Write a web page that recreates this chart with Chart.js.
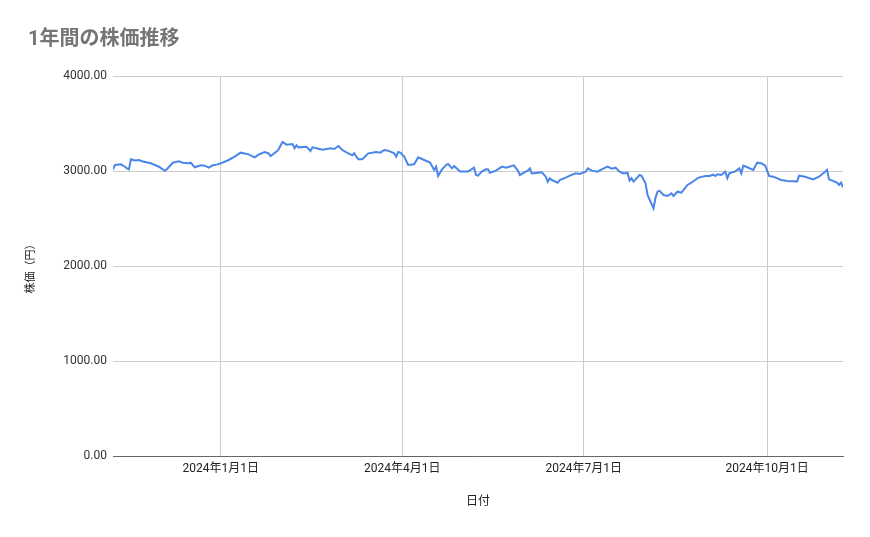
<!DOCTYPE html>
<html><head><meta charset="utf-8">
<script src="https://cdn.jsdelivr.net/npm/chart.js@4.4.1/dist/chart.umd.min.js"></script>
<style>html,body{margin:0;padding:0;background:#fff}#wrap{width:870px;height:537px}</style>
</head><body><div id="wrap"><canvas id="c" width="870" height="537"></canvas></div>
<script>
const chartTitle = "1年間の株価推移";
const xAxisTitle = "日付";
const yAxisTitle = "株価（円）";
const dates = [
"2023-11-08","2023-11-09","2023-11-12","2023-11-14","2023-11-15","2023-11-16","2023-11-17","2023-11-19","2023-11-21","2023-11-23",
"2023-11-27","2023-12-01","2023-12-04","2023-12-05","2023-12-08","2023-12-11","2023-12-13","2023-12-16","2023-12-17","2023-12-19",
"2023-12-22","2023-12-24","2023-12-26","2023-12-28","2023-12-30","2024-01-01","2024-01-05","2024-01-08","2024-01-11","2024-01-15",
"2024-01-18","2024-01-20","2024-01-23","2024-01-25","2024-01-26","2024-01-29","2024-01-30","2024-02-01","2024-02-03","2024-02-06",
"2024-02-07","2024-02-08","2024-02-09","2024-02-13","2024-02-15","2024-02-16","2024-02-19","2024-02-21","2024-02-25","2024-02-27",
"2024-02-29","2024-03-02","2024-03-05","2024-03-07","2024-03-08","2024-03-09","2024-03-10","2024-03-12","2024-03-15","2024-03-19",
"2024-03-21","2024-03-23","2024-03-25","2024-03-28","2024-03-29","2024-03-30","2024-03-31","2024-04-02","2024-04-04","2024-04-07",
"2024-04-09","2024-04-12","2024-04-15","2024-04-17","2024-04-18","2024-04-19","2024-04-21","2024-04-23","2024-04-24","2024-04-26",
"2024-04-27","2024-04-30","2024-05-04","2024-05-07","2024-05-08","2024-05-09","2024-05-11","2024-05-13","2024-05-14","2024-05-15",
"2024-05-18","2024-05-21","2024-05-23","2024-05-27","2024-05-29","2024-05-30","2024-06-01","2024-06-03","2024-06-04","2024-06-05",
"2024-06-08","2024-06-10","2024-06-12","2024-06-13","2024-06-14","2024-06-15","2024-06-18","2024-06-19","2024-06-22","2024-06-24",
"2024-06-27","2024-06-29","2024-07-02","2024-07-03","2024-07-05","2024-07-08","2024-07-10","2024-07-13","2024-07-15","2024-07-17",
"2024-07-19","2024-07-21","2024-07-23","2024-07-24","2024-07-25","2024-07-26","2024-07-27","2024-07-29","2024-07-30","2024-08-01",
"2024-08-02","2024-08-05","2024-08-06","2024-08-07","2024-08-08","2024-08-10","2024-08-12","2024-08-14","2024-08-15","2024-08-17",
"2024-08-19","2024-08-22","2024-08-24","2024-08-27","2024-08-28","2024-08-31","2024-09-02","2024-09-04","2024-09-05","2024-09-06",
"2024-09-08","2024-09-10","2024-09-11","2024-09-12","2024-09-15","2024-09-17","2024-09-18","2024-09-19","2024-09-21","2024-09-24",
"2024-09-26","2024-09-28","2024-09-30","2024-10-02","2024-10-04","2024-10-08","2024-10-11","2024-10-16","2024-10-17","2024-10-20",
"2024-10-24","2024-10-27","2024-10-30","2024-10-31","2024-11-01","2024-11-05","2024-11-06","2024-11-07","2024-11-08"
];
const prices = [
3018,3063,3070,3045,3028,3018,3123,3110,3116,3100,
3081,3045,3003,3018,3087,3102,3087,3081,3087,3039,
3060,3056,3035,3060,3067,3081,3116,3151,3193,3175,
3144,3172,3200,3186,3158,3204,3228,3305,3277,3284,
3239,3270,3249,3256,3211,3249,3235,3225,3239,3232,
3263,3221,3186,3165,3186,3151,3123,3123,3186,3200,
3193,3221,3214,3186,3151,3200,3193,3151,3063,3070,
3144,3116,3088,3011,3046,2947,3018,3063,3074,3028,
3053,2995,2995,3035,2958,2951,2996,3018,3018,2982,
3004,3046,3035,3060,3004,2958,2982,3004,3028,2975,
2982,2986,2940,2888,2923,2905,2877,2905,2930,2951,
2975,2968,2993,3028,3004,2993,3018,3046,3025,3035,
2993,2975,2982,2898,2923,2888,2912,2958,2950,2870,
2747,2607,2720,2782,2793,2747,2737,2765,2737,2782,
2772,2853,2877,2923,2933,2947,2947,2961,2947,2965,
2958,2993,2923,2975,2996,3028,2975,3056,3039,3011,
3088,3081,3056,2947,2940,2905,2895,2891,2951,2940,
2912,2940,2993,3011,2912,2877,2853,2877,2828
];
const xTickDates = ["2024-01-01","2024-04-01","2024-07-01","2024-10-01"];
const xTickLabels = ["2024年1月1日","2024年4月1日","2024年7月1日","2024年10月1日"];
const yTicks = [0,1000,2000,3000,4000];

function dayNum(s){ const p = s.split("-").map(Number); return Date.UTC(p[0], p[1]-1, p[2]) / 86400000; }
const FONT = "Roboto, 'Noto Sans CJK JP', sans-serif";

const titlePlugin = {
  id: 'sheetTitle',
  afterDraw(chart){
    const ctx = chart.ctx;
    ctx.save();
    ctx.font = "bold 20px Roboto, 'Noto Sans CJK JP', sans-serif";
    ctx.fillStyle = '#757575';
    ctx.textBaseline = 'middle';
    ctx.textAlign = 'left';
    ctx.fillText(chartTitle, 28, 40);
    ctx.restore();
  }
};

new Chart(document.getElementById('c'), {
  type: 'line',
  data: {
    datasets: [{
      label: yAxisTitle,
      data: dates.map((d,i) => ({x: dayNum(d), y: prices[i]})),
      borderColor: '#4a86e8',
      backgroundColor: '#4a86e8',
      borderWidth: 2,
      pointRadius: 0,
      tension: 0,
      fill: false
    }]
  },
  options: {
    responsive: false,
    animation: false,
    layout: { padding: { top: 76, right: 27, left: 0, bottom: 0 } },
    plugins: { legend: { display: false }, tooltip: { enabled: false }, title: { display: false } },
    scales: {
      x: {
        type: 'linear',
        min: dayNum(dates[0]),
        max: dayNum(dates[dates.length-1]),
        afterBuildTicks: s => { s.ticks = xTickDates.map(d => ({value: dayNum(d)})); },
        ticks: { autoSkip: false, maxRotation: 0, color: '#222', font: {size: 12, family: FONT}, padding: 6,
                 callback: (v, i) => xTickLabels[i] },
        grid: { color: '#cccccc', drawTicks: false },
        border: { display: true, color: '#666666', width: 1 },
        title: { display: true, text: xAxisTitle, color: '#222', font: {size: 12, family: FONT}, padding: {top: 0, bottom: 28} },
        afterFit: s => { s.height = 81; }
      },
      y: {
        min: 0, max: 4000,
        afterBuildTicks: s => { s.ticks = yTicks.map(v => ({value: v})); },
        ticks: { color: '#333', font: {size: 12, family: FONT}, padding: 6, callback: v => Number(v).toFixed(2) },
        grid: { color: '#cccccc', drawTicks: false },
        border: { display: false },
        title: { display: true, text: yAxisTitle, color: '#222', font: {size: 11, family: FONT}, padding: {top: 25, bottom: 0} },
        afterFit: s => { s.width = 113; }
      }
    }
  },
  plugins: [titlePlugin]
});
</script>
</body></html>
